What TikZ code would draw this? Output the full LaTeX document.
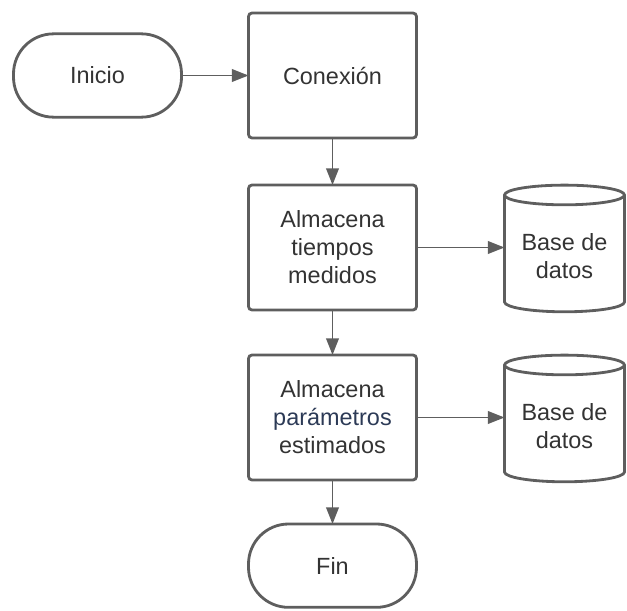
\documentclass[tikz,border=0pt]{standalone}
\usepackage{fontspec}
\setmainfont{Liberation Sans}
\usepackage{xcolor}
\usepackage{tikz}
\usetikzlibrary{shapes.geometric, arrows.meta, positioning}
\definecolor{edgegrey}{RGB}{94, 94, 94}
\definecolor{textgrey}{RGB}{51, 51, 51}
\definecolor{paramblue}{RGB}{44, 58, 86}

\begin{document}
\begin{tikzpicture}[node distance=1.4cm, auto,
  box/.style={rectangle, draw=edgegrey, line width=2.4pt, text=textgrey, text width=4.8cm, align=center, rounded corners=3pt, minimum width=5.04cm, minimum height=3.75cm, outer sep=0pt, font=\fontsize{20}{24}\selectfont},
  terminal/.style={box, rounded corners=1.2cm, minimum height=2.5cm},
  store/.style={cylinder, shape border rotate=90, aspect=0.21, draw=edgegrey, line width=2.4pt, text=textgrey, align=center, minimum width=3.6cm, minimum height=3.8cm, outer sep=0pt, font=\fontsize{20}{24}\selectfont},
  line/.style={draw=edgegrey, line width=1.5pt, -{Triangle[length=0.5cm, width=0.38cm]}}]

  \useasboundingbox (0,0) rectangle (18.81,-18.33);

  \node [terminal] (inicio) at (2.925,-2.265) {Inicio};
  \node [box, right=2.01cm of inicio] (conexion) {Conexión};
  \node [box, below=1.41cm of conexion] (tiempos) {Almacena\\tiempos\\medidos};
  \node [store, right=2.64cm of tiempos, yshift=-0.25cm] (bd1) {Base de\\datos};
  \node [box, below=1.35cm of tiempos] (param) {Almacena\\\textcolor{paramblue}{parámetros}\\estimados};
  \node [store, right=2.64cm of param, yshift=-0.25cm] (bd2) {Base de\\datos};
  \node [terminal, below=1.32cm of param] (fin) {Fin};

  \path [line] (inicio) -- (conexion);
  \path [line] (conexion) -- (tiempos);
  \path [line] (tiempos) -- (tiempos -| bd1.west);
  \path [line] (tiempos) -- (param);
  \path [line] (param) -- (param -| bd2.west);
  \path [line] (param) -- (fin);

\end{tikzpicture}
\end{document}
